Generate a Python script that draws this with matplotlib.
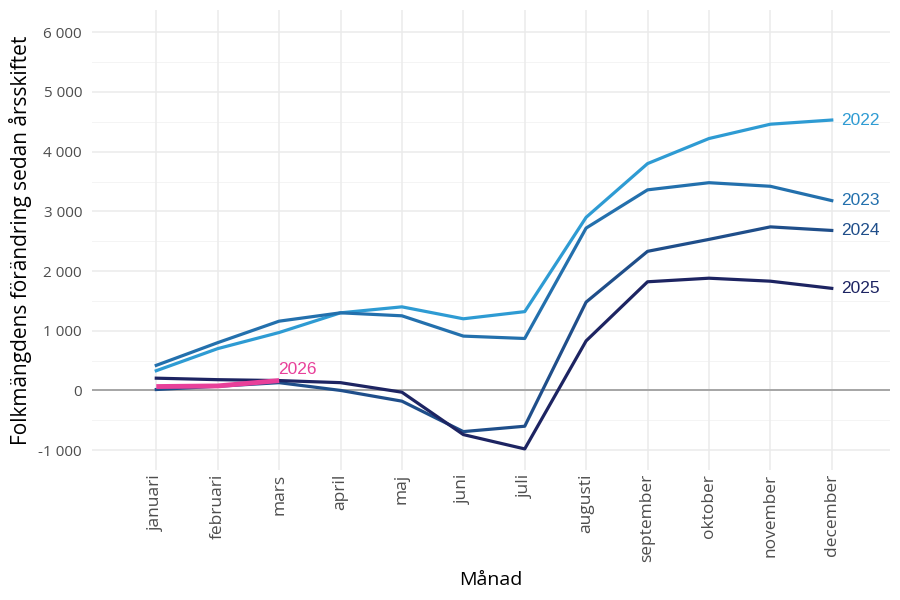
import matplotlib
matplotlib.use("Agg")
import matplotlib.pyplot as plt
import numpy as np

months = ["januari", "februari", "mars", "april", "maj", "juni", "juli",
          "augusti", "september", "oktober", "november", "december"]

y2022 = [330, 700, 970, 1300, 1400, 1200, 1320, 2900, 3800, 4220, 4460, 4530]
y2023 = [420, 800, 1160, 1300, 1250, 910, 870, 2720, 3360, 3480, 3420, 3180]
y2024 = [15, 70, 130, 0, -180, -690, -600, 1480, 2330, 2530, 2740, 2680]
y2025 = [205, 180, 165, 130, -30, -740, -980, 830, 1820, 1880, 1830, 1710]
y2026 = [65, 75, 165]

series = [("2022", y2022, "#2e9bd3"),
          ("2023", y2023, "#2370ad"),
          ("2024", y2024, "#1f4e8a"),
          ("2025", y2025, "#1d2462")]

plt.rcParams['font.family'] = ['Open Sans', 'DejaVu Sans']

fig = plt.figure(figsize=(9, 6), dpi=100)
ax = fig.add_axes([0.102, 0.217, 0.887, 0.766])

x = np.arange(len(months))

# grid
for v in np.arange(-1000, 6001, 1000):
    ax.axhline(v, color="#ebebeb", lw=1.1, zorder=0)
for v in np.arange(-1500, 6501, 1000):
    ax.axhline(v, color="#f2f2f2", lw=0.6, zorder=0)
for xi in x:
    ax.axvline(xi, color="#ebebeb", lw=1.1, zorder=0)
ax.axhline(0, color="#a0a0a0", lw=1.3, zorder=1)

for name, ys, col in series:
    ax.plot(x, ys, color=col, lw=2.3, zorder=3)
    ax.text(x[-1] + 0.15, ys[-1], name, color=col, fontsize=12.5,
            fontfamily=["Liberation Sans"], va="center", ha="left")

x26 = x[:len(y2026)]
ax.plot(x26, y2026, color="#e8409a", lw=3.5, zorder=4, solid_capstyle="butt")
ax.text(x26[-1] - 0.02, y2026[-1] + 60, "2026", color="#e8409a", fontsize=12.5,
        fontfamily=["Liberation Sans"], va="bottom", ha="left")

ax.set_xlim(-1.05, 11.95)
ax.set_ylim(-1330, 6370)
ax.set_xticks(x)
ax.set_xticklabels(months, rotation=90)
ax.set_yticks(np.arange(-1000, 6001, 1000))
ax.set_yticklabels([f"{v:,}".replace(",", " ") for v in range(-1000, 6001, 1000)])
ax.tick_params(length=0, labelcolor="#4d4d4d")
ax.tick_params(axis="x", labelsize=12.5, pad=3)
ax.tick_params(axis="y", labelsize=11, pad=7)
for s in ax.spines.values():
    s.set_visible(False)

ax.set_xlabel("Månad", fontsize=14, labelpad=6)
ax.set_ylabel("Folkmängdens förändring sedan årsskiftet", fontsize=15, labelpad=5)

fig.savefig("out.png", dpi=100)
